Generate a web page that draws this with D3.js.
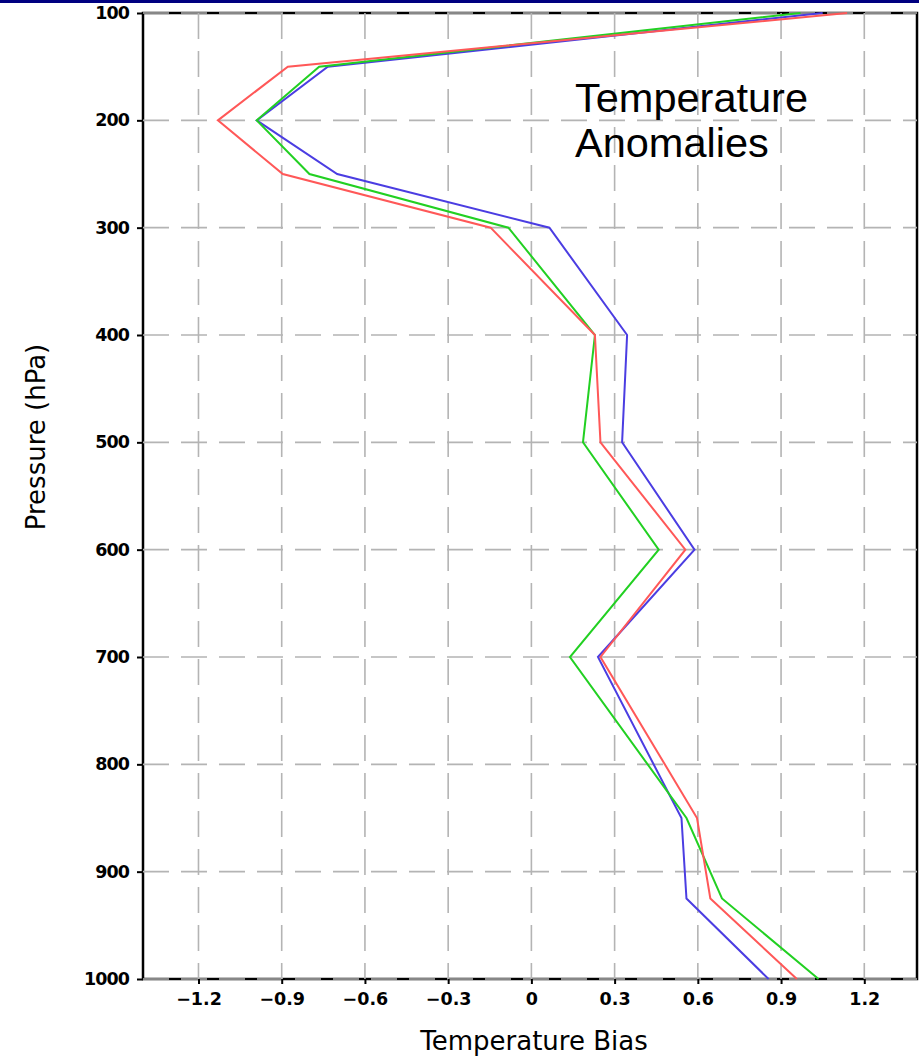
<!DOCTYPE html>
<html>
<head>
<meta charset="utf-8">
<script src="https://cdn.jsdelivr.net/npm/d3@7"></script>
<style>
  html, body { margin: 0; padding: 0; background: #fff; }
  svg { display: block; }
</style>
</head>
<body>
<script>
// ---- data ----
const levels = [100, 150, 200, 250, 300, 400, 500, 600, 700, 850, 925, 1000];
const redVals   = [1.138, -0.878, -1.13, -0.896, -0.147, 0.229, 0.249, 0.555, 0.249, 0.597, 0.645, 0.957];
const greenVals = [0.97, -0.765, -0.99, -0.80, -0.083, 0.229, 0.186, 0.459, 0.139, 0.559, 0.687, 1.035];
const blueVals  = [1.05, -0.734, -0.99, -0.70, 0.065, 0.345, 0.327, 0.588, 0.240, 0.541, 0.559, 0.855];
const xTicks = [-1.2, -0.9, -0.6, -0.3, 0, 0.3, 0.6, 0.9, 1.2];
const xTickLabels = ["\u22121.2", "\u22120.9", "\u22120.6", "\u22120.3", "0", "0.3", "0.6", "0.9", "1.2"];
const yTicks = [100, 200, 300, 400, 500, 600, 700, 800, 900, 1000];
const yTickLabels = ["100", "200", "300", "400", "500", "600", "700", "800", "900", "1000"];
const xDomain = [-1.4, 1.39];
const yDomain = [100, 1000];
const xTitle = "Temperature Bias";
const yTitle = "Pressure (hPa)";
const annotation = ["Temperature", "Anomalies"];

const W = 919, H = 1060;
const svg = d3.select("body").append("svg").attr("width", W).attr("height", H);

// top navy bar
svg.append("rect").attr("x", 0).attr("y", 0).attr("width", W).attr("height", 3).attr("fill", "#000080");

const x = d3.scaleLinear().domain(xDomain).range([143, 917]);
const y = d3.scaleLinear().domain(yDomain).range([13, 979]);

// frame
svg.append("rect")
  .attr("x", x(xDomain[0])).attr("y", y(yDomain[0]))
  .attr("width", x(xDomain[1]) - x(xDomain[0]))
  .attr("height", y(yDomain[1]) - y(yDomain[0]))
  .attr("fill", "none").attr("stroke", "#000").attr("stroke-width", 2.5);

// grid
const grid = svg.append("g").attr("stroke", "#b4b4b4").attr("stroke-width", 1.6).attr("stroke-dasharray", "26,12");
grid.selectAll("line.v").data(xTicks).join("line").attr("class", "v")
  .attr("x1", d => x(d)).attr("x2", d => x(d))
  .attr("y1", y(yDomain[0])).attr("y2", y(yDomain[1]));
grid.selectAll("line.h").data(yTicks).join("line").attr("class", "h")
  .attr("x1", x(xDomain[0])).attr("x2", x(xDomain[1]))
  .attr("y1", d => y(d)).attr("y2", d => y(d));

// axes
const xAxis = d3.axisBottom(x).tickValues(xTicks).tickFormat((d, i) => xTickLabels[i]).tickSize(5).tickPadding(9);
const gx = svg.append("g").attr("transform", `translate(0,${y(yDomain[1])})`).call(xAxis);
gx.select(".domain").remove();
gx.selectAll(".tick line").attr("stroke", "#000").attr("stroke-width", 2);
gx.selectAll(".tick text").attr("font-family", "DejaVu Sans").attr("font-weight", "bold")
  .attr("font-size", 17.5).attr("fill", "#000");

const yAxis = d3.axisLeft(y).tickValues(yTicks).tickFormat((d, i) => yTickLabels[i]).tickSize(6).tickPadding(8);
const gy = svg.append("g").attr("transform", `translate(${x(xDomain[0])},0)`).call(yAxis);
gy.select(".domain").remove();
gy.selectAll(".tick line").attr("stroke", "#000").attr("stroke-width", 2);
gy.selectAll(".tick text").attr("font-family", "DejaVu Sans").attr("font-weight", "bold")
  .attr("font-size", 17.5).attr("letter-spacing", -0.9).attr("fill", "#000");

// lines
const line = d3.line().x(d => x(d[1])).y(d => y(d[0]));
const series = [
  { vals: blueVals, color: "#4b3de2" },
  { vals: greenVals, color: "#22d022" },
  { vals: redVals, color: "#ff5858" }
];
series.forEach(s => {
  svg.append("path")
    .datum(levels.map((l, i) => [l, s.vals[i]]))
    .attr("d", line)
    .attr("fill", "none").attr("stroke", s.color).attr("stroke-width", 2)
    .attr("stroke-linejoin", "miter");
});

// titles
svg.append("text").attr("x", 534).attr("y", 1050).attr("text-anchor", "middle")
  .attr("font-family", "DejaVu Sans").attr("font-size", 26).attr("fill", "#000").text(xTitle);
svg.append("text").attr("transform", "translate(45,437) rotate(-90)").attr("text-anchor", "middle")
  .attr("font-family", "DejaVu Sans").attr("font-size", 26).attr("fill", "#000").text(yTitle);

// annotation
annotation.forEach((t, i) => {
  svg.append("text").attr("x", 575).attr("y", 112 + i * 45)
    .attr("font-family", "Liberation Sans").attr("font-size", 41.5).attr("fill", "#000").text(t);
});
</script>
</body>
</html>
